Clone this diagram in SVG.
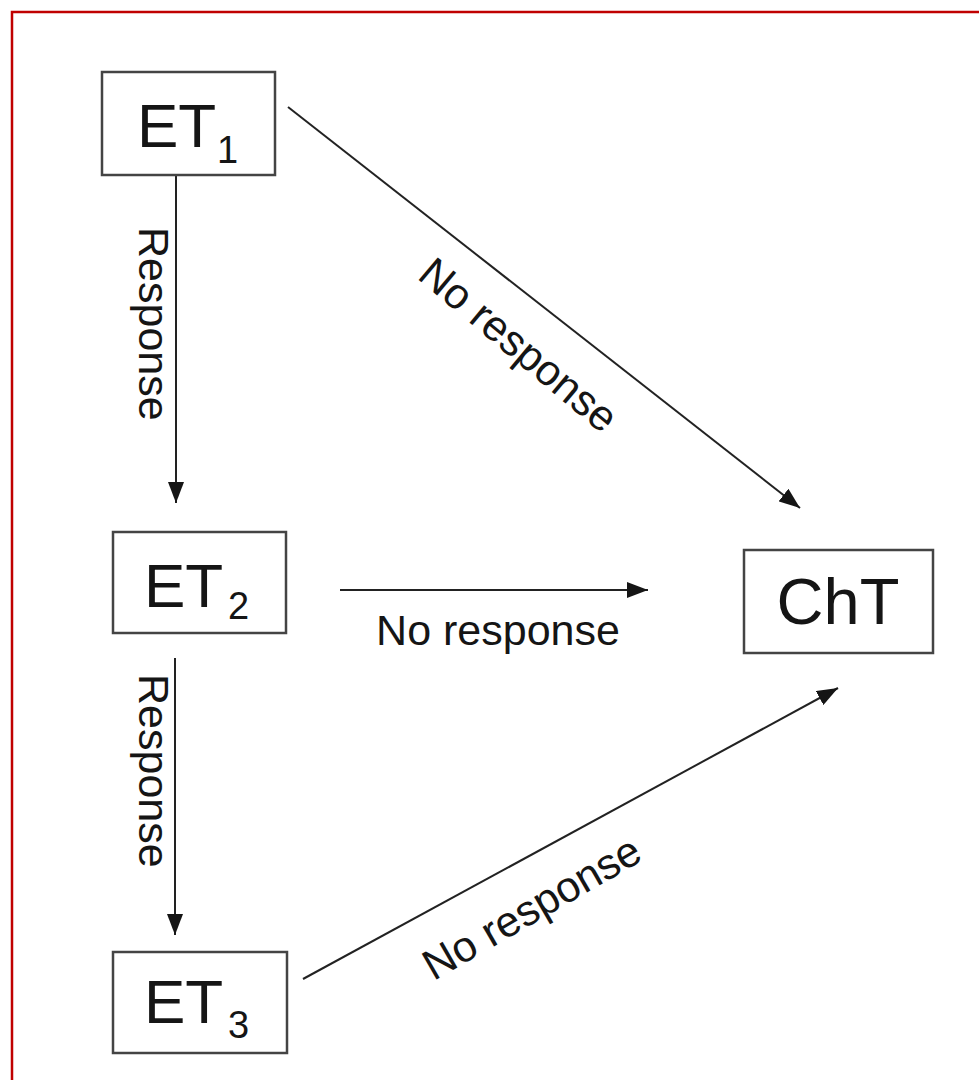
<svg xmlns="http://www.w3.org/2000/svg" width="979" height="1080" viewBox="0 0 979 1080">
  <style>
    .box { fill: #ffffff; stroke: #444444; stroke-width: 2.5; }
    .lbl { font-family: "Liberation Sans", Arial, sans-serif; fill: #151515; }
    .big { font-size: 62px; }
    .cht { font-size: 65px; }
    .sub { font-size: 38px; }
    .edge { font-size: 43px; }
    .conn { stroke: #222222; stroke-width: 2; fill: none; marker-end: url(#ah); }
    .frame { stroke: #c00000; stroke-width: 2.5; fill: none; }
  </style>
  <defs>
    <marker id="ah" viewBox="0 0 21 16" refX="21" refY="8" markerWidth="21" markerHeight="16" markerUnits="userSpaceOnUse" orient="auto">
      <path d="M0,0 L21,8 L0,16 z" fill="#151515"/>
    </marker>
  </defs>
  <rect width="979" height="1080" fill="#ffffff"/>
  <path class="frame" d="M12,1080 L12,12 L979,12"/>

  <g id="connectors">
    <line class="conn" x1="176" y1="176" x2="176" y2="503"/>
    <line class="conn" x1="175" y1="658" x2="175" y2="935"/>
    <line class="conn" x1="340" y1="590" x2="648" y2="590"/>
    <line class="conn" x1="288" y1="107" x2="800" y2="508"/>
    <line class="conn" x1="303" y1="979" x2="838" y2="688"/>
    <text class="lbl edge" transform="translate(139,227) rotate(90)">Response</text>
    <text class="lbl edge" transform="translate(139,674) rotate(90)">Response</text>
    <text class="lbl edge" x="498" y="645" text-anchor="middle">No response</text>
    <text class="lbl edge" transform="translate(517,347) rotate(40)" y="12" text-anchor="middle">No response</text>
    <text class="lbl edge" transform="translate(533,910) rotate(-30)" y="12" text-anchor="middle">No response</text>
  </g>

  <g id="ET1">
    <rect class="box" x="102" y="72" width="173" height="103"/>
    <text class="lbl big" x="137" y="147">ET</text>
    <text class="lbl sub" x="217" y="163">1</text>
  </g>
  <g id="ET2">
    <rect class="box" x="113" y="532" width="173" height="101"/>
    <text class="lbl big" x="144" y="607">ET</text>
    <text class="lbl sub" x="228" y="619">2</text>
  </g>
  <g id="ET3">
    <rect class="box" x="113" y="952" width="174" height="101"/>
    <text class="lbl big" x="144" y="1023">ET</text>
    <text class="lbl sub" x="228" y="1038">3</text>
  </g>
  <g id="ChT">
    <rect class="box" x="744" y="550" width="189" height="103"/>
    <text class="lbl cht" x="838" y="624" text-anchor="middle">ChT</text>
  </g>
</svg>
